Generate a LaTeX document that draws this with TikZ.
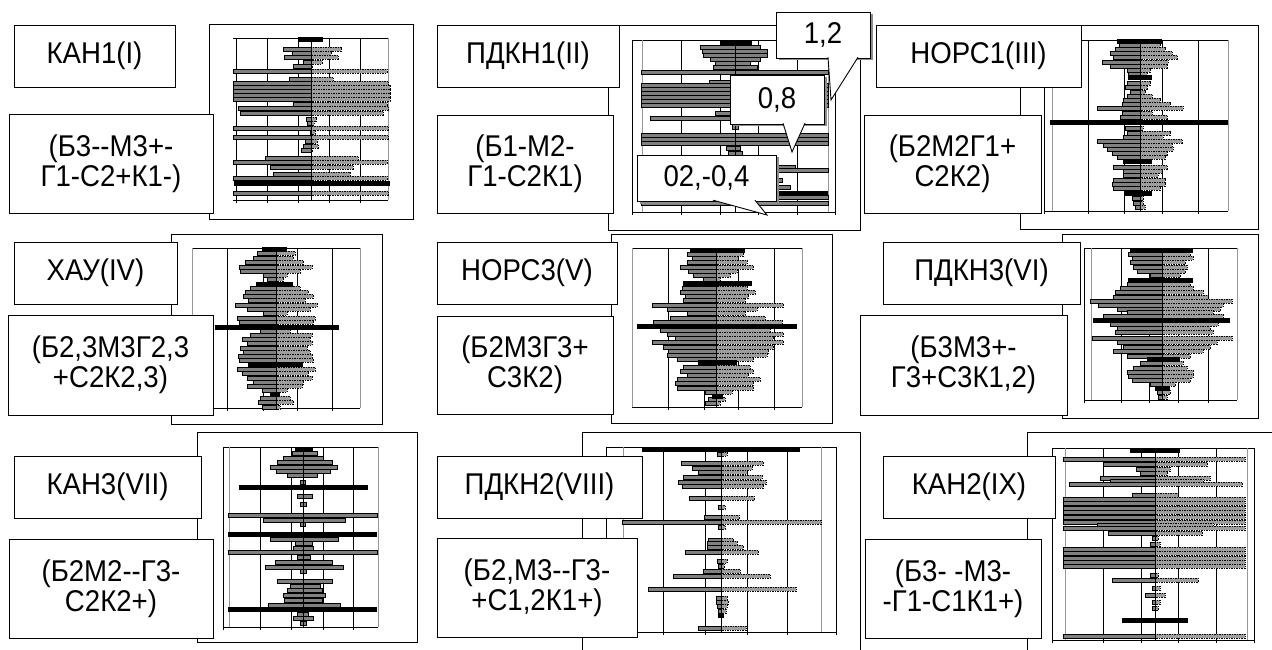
\documentclass[tikz,border=0pt]{standalone}
\usepackage{fontspec}
\newfontfamily\labfont{Liberation Sans}[FakeStretch=0.92]
\usetikzlibrary{shadows}

\definecolor{barL}{gray}{0.50}
\definecolor{barR}{gray}{0.62}

\tikzset{
  labelbox/.style={draw,fill=white,line width=0.9pt,inner sep=0pt,outer sep=0pt,align=center,
    font=\labfont\fontsize{30}{30}\selectfont},
  calloutbox/.style={labelbox,drop shadow={shadow xshift=2.5pt,shadow yshift=-2.5pt,fill=black!45,opacity=1}},
  pointer/.style={draw,fill=white,line width=0.9pt},
  chartbox/.style={draw,line width=0.8pt},
  gridline/.style={line width=0.6pt},
  gridgray/.style={line width=0.6pt,black!40},
  axisline/.style={line width=0.6pt},
  barleft/.style={line width=0.4pt,fill=barL},
  barright/.style={line width=0.4pt,fill=barR,dash pattern=on 1.5pt off 1pt}
}

% frame of one plot: left, right, top, bottom, black lines, gray lines
\newcommand{\plotframe}[6]{%
  \draw[gridline] (#1,#3) -- (#2,#3);
  \draw[gridline] (#1,#4) -- (#2,#4);
  \foreach \gx in {#5} \draw[gridline] (\gx,#3) -- (\gx,#4+3);
  \foreach \gx in {#6} \draw[gridgray] (\gx,#3) -- (\gx,#4);
}
% one bar: y, left end, right end (axis in \ax)
\newcommand{\plotbar}[3]{%
  \filldraw[barleft] (#2,#1-2) rectangle (\ax,#1+2);
  \filldraw[barright] (\ax,#1-2) rectangle (#3,#1+2);
}
\newcommand{\blackbar}[3]{\fill (#2,#1-2.5) rectangle (#3,#1+2.5);}

\begin{document}
\begin{tikzpicture}[x=1pt,y=-1pt]
\useasboundingbox (0,0) rectangle (1272,650);
\fill[white] (0,0) rectangle (1272,650);
\clip (0,0) rectangle (1272,650);

% --- I
\draw[chartbox] (209,24) rectangle (413,219);
\plotframe{233}{388}{38}{200}{236,267,298,329,360}{388}
\def\ax{311}
\foreach \y/\l/\r in {49/283/341,53/292/331,57/284/338,62/303/322,66/293/312,71/233/387,
  79/289/333,83/233/388,87/233/390,91/233/390,95/233/390,99/233/390,104/293/387,108/238/388,
  113/240/383,119/306/316,123/307/314,128/233/388,132/310/315,137/233/388,141/305/317,
  146/303/318,150/301/312,158/265/358,162/233/387,167/270/353,174/273/350,178/233/387,193/233/388}
  {\plotbar{\y}{\l}{\r}}
\foreach \y/\l/\r in {40/298/323,183/234/390} {\blackbar{\y}{\l}{\r}}
\draw[axisline] (\ax,38) -- (\ax,200);
\node[labelbox,minimum width=161,minimum height=62] (kan1) at (94.5,56) {КАН1(I)};
\node[labelbox,minimum width=204,minimum height=99] (kan1f) at (111,163.5) {(Б3--М3+-\\Г1-С2+К1-)};

% --- II
\draw[chartbox] (608,25) rectangle (860,230);
\plotframe{632}{835}{40}{212}{632,681,720,758,797,835}{642,828}
\def\ax{735}
\begin{scope}[barright/.style={barleft}]
\foreach \y/\l/\r in {47/700/760,51/702/767,55/703/767,59/710/760,63/715/750,67/713/757,
  72/641/828,82/709/780,85/641/828,89/641/828,93/641/828,97/641/828,101/641/828,105/641/828,
  113/715/790,118/650/800,127/732/738,135/641/828,139/641/828,143/641/828,148/726/740,
  153/728/742,167/700/795,170/641/828,180/700/782,187/700/790,197/641/828,203/641/828}
  {\plotbar{\y}{\l}{\r}}
\end{scope}
\foreach \y/\l/\r in {43/720/752,193/641/828} {\blackbar{\y}{\l}{\r}}
\draw[axisline] (\ax,40) -- (\ax,212);
\node[labelbox,minimum width=182,minimum height=62] (pdkn1) at (528,56) {ПДКН1(II)};
\node[labelbox,minimum width=176,minimum height=98] (pdkn1f) at (525,164) {(Б1-М2-\\Г1-С2К1)};

% --- III
\draw[chartbox] (1020,25) rectangle (1258,229);
\plotframe{1044}{1228}{40}{211}{1044,1088,1124,1162,1198}{1052,1228}
\def\ax{1140}
\foreach \y/\l/\r in {45/1119/1160,49/1115/1165,53/1110/1172,57/1113/1177,62/1102/1168,
  66/1110/1167,70/1127/1150,74/1128/1147,83/1127/1150,87/1125/1147,92/1130/1145,96/1127/1152,
  100/1123/1160,104/1122/1170,108/1097/1183,113/1122/1152,117/1120/1167,128/1125/1143,
  133/1127/1170,137/1123/1163,141/1097/1182,145/1103/1172,149/1107/1173,153/1112/1167,
  157/1117/1165,167/1113/1167,171/1123/1162,175/1123/1158,180/1113/1165,184/1112/1165,
  188/1113/1160,198/1132/1143,203/1133/1143,207/1135/1145}
  {\plotbar{\y}{\l}{\r}}
\foreach \y/\l/\r in {42/1117/1162,78/1128/1152,123/1050/1228,162/1123/1152,193/1125/1152}
  {\blackbar{\y}{\l}{\r}}
\draw[axisline] (\ax,40) -- (\ax,211);
\node[labelbox,minimum width=205,minimum height=62] (nors1) at (978.5,56) {НОРС1(III)};
\node[labelbox,minimum width=177,minimum height=98] (nors1f) at (952.5,164) {(Б2М2Г1+\\С2К2)};

% --- IV
\draw[chartbox] (171,234) rectangle (382,424);
\plotframe{192}{360}{248}{408}{227,263,297,332}{192,360}
\def\ax{276}
\foreach \y/\l/\r in {253/257/295,258/253/293,262/245/303,267/239/312,271/240/300,275/263/287,
  279/267/283,288/250/300,292/245/308,296/243/313,300/248/305,305/235/317,309/247/310,
  313/263/287,318/237/315,322/239/313,331/260/290,335/250/312,339/242/310,343/247/312,
  348/240/307,352/243/310,356/238/312,360/239/313,369/237/315,373/242/308,378/247/312,
  382/253/303,386/247/302,390/262/287,398/260/290,402/258/293,407/262/280}
  {\plotbar{\y}{\l}{\r}}
\foreach \y/\l/\r in {249/262/287,284/256/293,327/215/339,364/248/303,394/270/280}
  {\blackbar{\y}{\l}{\r}}
\draw[axisline] (\ax,248) -- (\ax,408);
\node[labelbox,minimum width=163,minimum height=62] (hau) at (95.5,273) {ХАУ(IV)};
\node[labelbox,minimum width=205,minimum height=100] (hauf) at (110.5,365) {(Б2,3М3Г2,3\\+С2К2,3)};

% --- V
\draw[chartbox] (611,234) rectangle (832,423);
\plotframe{632}{802}{248}{407}{668,704,738,774}{632,802}
\def\ax{716}
\foreach \y/\l/\r in {254/687/743,258/692/738,262/687/747,267/680/753,271/688/737,275/693/730,
  279/703/720,288/682/747,292/680/755,296/685/748,300/683/745,305/652/783,309/667/757,
  313/687/745,318/670/765,322/653/782,330/660/770,334/667/783,338/675/773,342/652/783,
  347/663/773,351/668/768,355/667/767,359/677/753,367/683/750,371/680/753,375/687/748,
  379/677/760,383/675/753,388/677/753,392/705/732,399/708/725,403/705/720}
  {\plotbar{\y}{\l}{\r}}
\foreach \y/\l/\r in {250/690/745,283/683/752,326/637/797,362/698/737,396/712/723}
  {\blackbar{\y}{\l}{\r}}
\draw[axisline] (\ax,248) -- (\ax,407);
\node[labelbox,minimum width=180,minimum height=62] (nors3) at (527,273) {НОРС3(V)};
\node[labelbox,minimum width=176,minimum height=98] (nors3f) at (525,365) {(Б2М3Г3+\\С3К2)};

% --- VI
\draw[chartbox] (1062,234) rectangle (1258,418);
\plotframe{1084}{1237}{248}{400}{1084,1121,1149,1178,1208}{1091,1237}
\def\ax{1162}
\foreach \y/\l/\r in {254/1128/1190,258/1132/1193,262/1130/1185,267/1133/1187,271/1137/1185,
  275/1150/1180,284/1127/1190,288/1120/1193,292/1115/1203,297/1113/1208,301/1090/1232,
  305/1098/1223,309/1117/1220,312/1127/1213,316/1103/1223,324/1110/1218,328/1117/1210,
  332/1115/1213,338/1092/1232,342/1117/1217,347/1123/1210,351/1113/1203,356/1127/1190,
  363/1140/1183,368/1133/1187,372/1127/1193,376/1128/1193,380/1132/1190,384/1150/1175,
  392/1157/1170,397/1158/1167}
  {\plotbar{\y}{\l}{\r}}
\foreach \y/\l/\r in {250/1130/1193,280/1128/1193,320/1093/1230,359/1147/1180,388/1155/1170}
  {\blackbar{\y}{\l}{\r}}
\draw[axisline] (\ax,248) -- (\ax,400);
\node[labelbox,minimum width=197,minimum height=62] (pdkn3) at (981.5,273) {ПДКН3(VI)};
\node[labelbox,minimum width=207,minimum height=100] (pdkn3f) at (963.5,365) {(Б3М3+-\\Г3+С3К1,2)};

% --- VII
\draw[chartbox] (197,432) rectangle (417,642);
\plotframe{223}{378}{447}{627}{223,260,291,323,353}{229,378}
\def\ax{303}
\begin{scope}[barright/.style={barleft}]
\foreach \y/\l/\r in {453/292/317,458/283/323,462/277/332,467/270/337,471/276/330,475/287/317,
  482/300/305,496/297/312,504/300/306,515/228/377,520/263/345,524/300/305,539/270/338,
  543/295/312,548/293/313,552/228/377,557/297/310,562/275/332,567/265/343,571/300/306,
  581/277/332,586/290/320,590/287/322,595/283/325,600/284/322,605/268/340,614/297/308,
  618/293/313,623/300/306}
  {\plotbar{\y}{\l}{\r}}
\end{scope}
\foreach \y/\l/\r in {449/295/313,487/239/368,534/228/377,609/228/377} {\blackbar{\y}{\l}{\r}}
\draw[axisline] (\ax,447) -- (\ax,627);
\node[labelbox,minimum width=187,minimum height=62] (kan3) at (107.5,487) {КАН3(VII)};
\node[labelbox,minimum width=204,minimum height=99] (kan3f) at (111,588.5) {(Б2М2--Г3-\\С2К2+)};

% --- VIII
\draw[chartbox] (582,432) rectangle (860,660);
\plotframe{606}{836}{447}{632}{606,663,705,747,787,836}{623,821}
\def\ax{721}
\foreach \y/\l/\r in {454/717/727,463/681/763,468/692/752,472/698/747,477/683/762,482/678/766,
  486/682/763,498/689/754,507/718/725,517/704/739,522/622/821,527/718/725,540/708/733,
  543/707/737,547/707/743,552/685/758,561/717/727,566/718/724,571/703/740,576/673/770,
  589/648/796,598/716/727,602/716/728,606/717/727,611/718/726,628/698/746}
  {\plotbar{\y}{\l}{\r}}
\foreach \y/\l/\r in {449/642/800,615/718/724} {\blackbar{\y}{\l}{\r}}
\draw[axisline] (\ax,447) -- (\ax,632);
\node[labelbox,minimum width=205,minimum height=62] (pdkn2) at (539.5,487) {ПДКН2(VIII)};
\node[labelbox,minimum width=200,minimum height=99] (pdkn2f) at (537,587.5) {(Б2,М3--Г3-\\+С1,2К1+)};

% --- IX
\draw[chartbox] (1027,432) rectangle (1280,660);
\plotframe{1052}{1254}{448}{640}{1052,1103,1141,1178,1216,1254}{1065,1247}
\def\ax{1155}
\foreach \y/\l/\r in {459/1063/1245,464/1103/1207,469/1136/1170,473/1140/1167,478/1100/1210,
  481/1110/1203,484/1069/1242,495/1132/1178,499/1063/1245,503/1063/1245,508/1063/1245,
  512/1063/1245,517/1063/1245,522/1063/1245,525/1097/1213,528/1063/1245,533/1108/1202,
  538/1152/1158,544/1150/1160,549/1063/1245,553/1063/1245,558/1063/1245,562/1063/1245,
  566/1063/1245,575/1150/1158,580/1112/1198,588/1152/1160,595/1145/1165,602/1152/1160,
  608/1152/1158,636/1063/1245}
  {\plotbar{\y}{\l}{\r}}
\foreach \y/\l/\r in {450/1130/1180,620/1122/1188} {\blackbar{\y}{\l}{\r}}
\draw[axisline] (\ax,448) -- (\ax,640);
\node[labelbox,minimum width=172,minimum height=62] (kan2) at (969,487) {КАН2(IX)};
\node[labelbox,minimum width=176,minimum height=99] (kan2f) at (953,588.5) {(Б3- -М3-\\-Г1-С1К1+)};

% callouts on chart II
\node[calloutbox,minimum width=94,minimum height=46] (c12) at (823,35) {1,2};
\coordinate (c12tip) at (831,100);
\filldraw[pointer] (828,57.2) -- (c12tip) -- (858,57.2);
\node[calloutbox,minimum width=94,minimum height=49] (c08) at (777,99.5) {0,8};
\coordinate (c08tip) at (792,152);
\filldraw[pointer] (783,123.2) -- (c08tip) -- (805,123.2);
\node[calloutbox,minimum width=139,minimum height=46] (c04) at (706.5,178) {02,-0,4};
\coordinate (c04tip) at (767,215);
\filldraw[pointer] (713,200.2) -- (c04tip) -- (755,200.2);
\end{tikzpicture}
\end{document}
